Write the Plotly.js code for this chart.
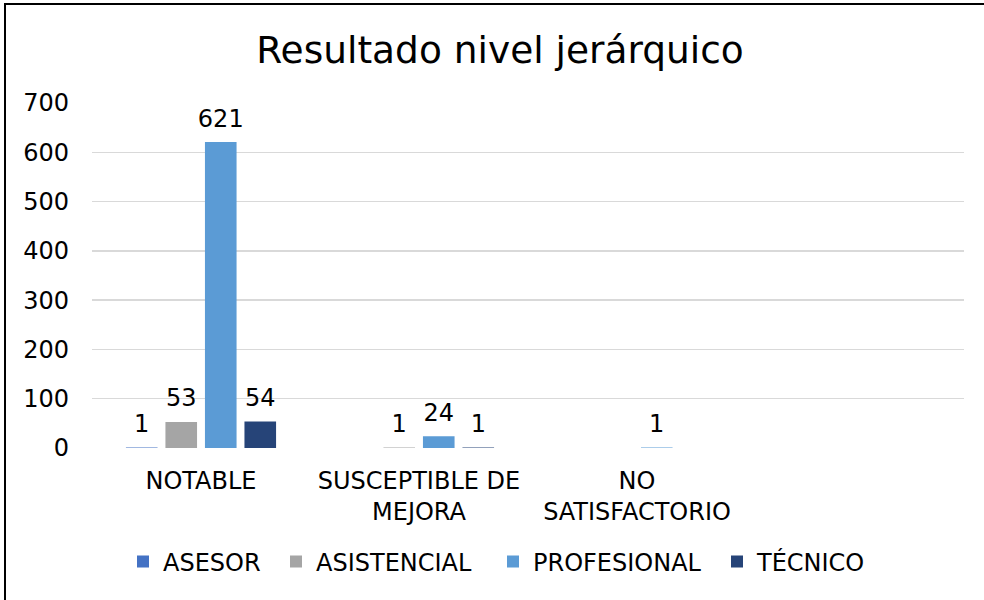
<!DOCTYPE html>
<html>
<head>
<meta charset="utf-8">
<script src="https://cdn.plot.ly/plotly-3.0.1.min.js"></script>
<style>
html,body{margin:0;padding:0;background:#fff;overflow:hidden;width:984px;height:600px;}
#wrap{position:relative;width:984px;height:600px;overflow:hidden;}
#chart{width:984px;height:600px;}
#frame{position:absolute;left:4px;top:3px;width:1100px;height:700px;border-left:2.5px solid #000;border-top:2.5px solid #000;pointer-events:none;}
</style>
</head>
<body>
<div id="wrap"><div id="chart"></div><div id="frame"></div></div>
<script>
const categories = ["NOTABLE", "SUSCEPTIBLE DE<br>MEJORA", "NO<br>SATISFACTORIO"];
const seriesNames = ["ASESOR", "ASISTENCIAL", "PROFESIONAL", "TÉCNICO"];
const asesor = [1, null, null];
const asistencial = [53, 1, null];
const profesional = [621, 24, 1];
const tecnico = [54, 1, null];
const yTicks = [0, 100, 200, 300, 400, 500, 600, 700];

const seriesValues = [asesor, asistencial, profesional, tecnico];
const colors = ["#4472C4", "#A5A5A5", "#5B9BD5", "#264478"];
const legendIds = ["legend", "legend2", "legend3", "legend4"];
const legendTextStart = [163, 316, 533, 757];
const FONT = "DejaVu Sans, Verdana, sans-serif";
const FS = 24;

const traces = [];
seriesValues.forEach((vals, i) => {
  traces.push({
    type: "bar", name: seriesNames[i], x: categories, y: vals,
    marker: {color: colors[i]}, legend: legendIds[i]
  });
});
seriesValues.forEach((vals, i) => {
  traces.push({
    type: "scatter", mode: "markers+text", x: categories, y: vals,
    text: vals.map(v => v == null ? "" : String(v)),
    textposition: "top center",
    textfont: {family: FONT, size: FS, color: "#000"},
    marker: {size: 13.5, color: "rgba(0,0,0,0)", line: {width: 0}},
    showlegend: false, hoverinfo: "skip", cliponaxis: false
  });
});

const layout = {
  width: 984, height: 600,
  margin: {l: 92, r: 20, t: 103, b: 152},
  paper_bgcolor: "#fff", plot_bgcolor: "#fff",
  font: {family: FONT, size: FS, color: "#000"},
  title: {text: "Resultado nivel jerárquico", font: {family: FONT, size: 37.5, color: "#000"},
          xref: "container", x: 500/984, xanchor: "center", yref: "container", y: 1 - 50/600, yanchor: "middle"},
  barmode: "group", bargap: 0.275, bargroupgap: 0.2,
  scattermode: "group", scattergap: 0.275,
  xaxis: {type: "category", range: [-0.5, 3.5], showgrid: false, zeroline: false, showline: false,
          ticks: "", tickfont: {family: FONT, size: FS, color: "#000"}, ticklabelstandoff: 16, fixedrange: true},
  yaxis: {range: [0, 700], tickvals: yTicks, ticktext: yTicks.map(String), showgrid: true, gridcolor: "#d9d9d9",
          gridwidth: 1.3, zeroline: false, showline: false, ticks: "",
          tickfont: {family: FONT, size: FS, color: "#000"}, ticklabelstandoff: 22, fixedrange: true},
  showlegend: true
};
legendIds.forEach((id, i) => {
  layout[id] = {orientation: "h", xref: "container", yref: "container",
    x: (legendTextStart[i] - 40) / 984, xanchor: "left", y: 1 - 562/600, yanchor: "middle",
    font: {family: FONT, size: FS, color: "#000"}, bgcolor: "rgba(0,0,0,0)"};
});

Plotly.newPlot("chart", traces, layout, {displayModeBar: false, responsive: false, staticPlot: true});
</script>
</body>
</html>
